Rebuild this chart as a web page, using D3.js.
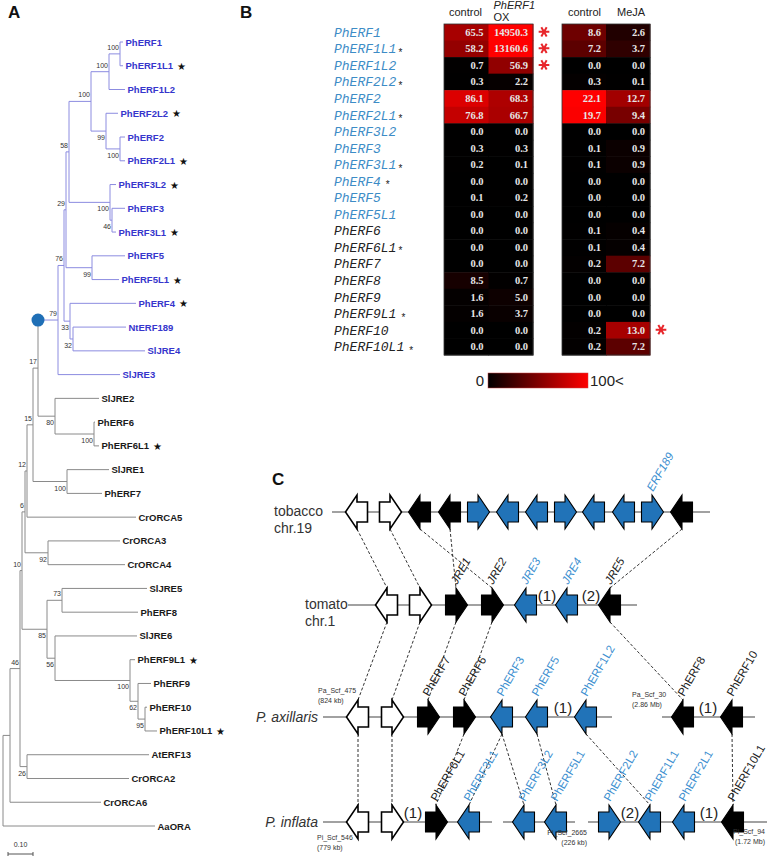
<!DOCTYPE html>
<html>
<head>
<meta charset="utf-8">
<script src="https://cdn.jsdelivr.net/npm/d3@7"></script>
<style>
  body { margin: 0; background: #fff; }
  svg { display: block; font-family: Arial, "Liberation Sans", sans-serif; }
</style>
</head>
<body>
<script>
// ---------- panel A: tree  [node, parent, branch length, bootstrap]
const treeNodes = [
  ["root", null, 0, null],
  ["n1", "root", 0.028, null],
  ["AaORA", "root", 0.608, null],
  ["n2", "n1", 0.040, 46],
  ["CrORCA6", "n1", 0.364, null],
  ["n3", "n2", 0.008, 10],
  ["n4", "n2", 0.028, 26],
  ["n5", "n3", 0.012, 6],
  ["n6", "n3", 0.100, 85],
  ["n7", "n5", 0.008, 12],
  ["n8", "n5", 0.092, 92],
  ["n9", "n7", 0.024, 15],
  ["CrORCA5", "n7", 0.436, null],
  ["n10", "n9", 0.020, 17],
  ["n11", "n9", 0.136, 100],
  ["n12", "n10", 0.080, 79],
  ["n13", "n10", 0.068, 80],
  ["n14", "n12", 0.024, 76],
  ["SlJRE3", "n12", 0.248, null],
  ["n15", "n14", 0.008, 29],
  ["n16", "n14", 0.024, 33],
  ["n17", "n15", 0.012, 58],
  ["n18", "n15", 0.104, 99],
  ["n19", "n17", 0.088, 100],
  ["n20", "n17", 0.164, 100],
  ["n21", "n19", 0.072, 100],
  ["n22", "n19", 0.060, 99],
  ["n23", "n21", 0.044, 100],
  ["PhERF1L2", "n21", 0.064, null],
  ["PhERF1", "n23", 0.012, null],
  ["PhERF1L1", "n23", 0.012, null],
  ["PhERF2L2", "n22", 0.048, null],
  ["n24", "n22", 0.056, 100],
  ["PhERF2", "n24", 0.020, null],
  ["PhERF2L1", "n24", 0.020, null],
  ["PhERF3L2", "n20", 0.024, null],
  ["n25", "n20", 0.008, 46],
  ["PhERF3", "n25", 0.052, null],
  ["PhERF3L1", "n25", 0.016, null],
  ["PhERF5", "n18", 0.132, null],
  ["PhERF5L1", "n18", 0.108, null],
  ["PhERF4", "n16", 0.264, null],
  ["n26", "n16", 0.012, 32],
  ["NtERF189", "n26", 0.212, null],
  ["SlJRE4", "n26", 0.288, null],
  ["SlJRE2", "n13", 0.176, null],
  ["n27", "n13", 0.156, 100],
  ["PhERF6", "n27", 0.004, null],
  ["PhERF6L1", "n27", 0.020, null],
  ["SlJRE1", "n11", 0.168, null],
  ["PhERF7", "n11", 0.140, null],
  ["CrORCA3", "n8", 0.288, null],
  ["CrORCA4", "n8", 0.308, null],
  ["n28", "n6", 0.060, 73],
  ["n29", "n6", 0.032, 56],
  ["SlJRE5", "n28", 0.340, null],
  ["PhERF8", "n28", 0.304, null],
  ["SlJRE6", "n29", 0.328, null],
  ["n30", "n29", 0.300, 100],
  ["PhERF9L1", "n30", 0.020, null],
  ["n31", "n30", 0.032, 62],
  ["PhERF9", "n31", 0.052, null],
  ["n32", "n31", 0.028, 95],
  ["PhERF10", "n32", 0.008, null],
  ["PhERF10L1", "n32", 0.048, null],
  ["AtERF13", "n4", 0.488, null],
  ["CrORCA2", "n4", 0.408, null]
];
const blueClade = "n12";
const treeStars = ["PhERF1L1", "PhERF2L2", "PhERF2L1", "PhERF3L2", "PhERF3L1", "PhERF5L1",
  "PhERF4", "PhERF6L1", "PhERF9L1", "PhERF10L1"];

// ---------- panel B: expression heatmap
const heatGenes = ["PhERF1", "PhERF1L1", "PhERF1L2", "PhERF2L2", "PhERF2", "PhERF2L1", "PhERF3L2",
  "PhERF3", "PhERF3L1", "PhERF4", "PhERF5", "PhERF5L1", "PhERF6", "PhERF6L1", "PhERF7", "PhERF8",
  "PhERF9", "PhERF9L1", "PhERF10", "PhERF10L1"];
const heatBlueGenes = 12;
const heatStars = ["PhERF1L1", "PhERF2L2", "PhERF2L1", "PhERF3L1", "PhERF6L1"];
const heatStarsSpaced = ["PhERF4", "PhERF9L1", "PhERF10L1"];
const oxControl = [65.5, 58.2, 0.7, 0.3, 86.1, 76.8, 0.0, 0.3, 0.2, 0.0, 0.1, 0.0, 0.0, 0.0, 0.0, 8.5, 1.6, 1.6, 0.0, 0.0];
const oxOX = [14950.3, 13160.6, 56.9, 2.2, 68.3, 66.7, 0.0, 0.3, 0.1, 0.0, 0.2, 0.0, 0.0, 0.0, 0.0, 0.7, 5.0, 3.7, 0.0, 0.0];
const mejaControl = [8.6, 7.2, 0.0, 0.3, 22.1, 19.7, 0.0, 0.1, 0.1, 0.0, 0.0, 0.0, 0.1, 0.1, 0.2, 0.0, 0.0, 0.0, 0.2, 0.2];
const mejaMeJA = [2.6, 3.7, 0.0, 0.1, 12.7, 9.4, 0.0, 0.9, 0.9, 0.0, 0.0, 0.0, 0.4, 0.4, 7.2, 0.0, 0.0, 0.0, 13.0, 7.2];
const oxSignif = ["PhERF1", "PhERF1L1", "PhERF1L2"];
const mejaSignif = ["PhERF10"];

// ---------- panel C: synteny  [id, track, position, strand, kind, label]
const tracks = ["tobacco", "tomato", "axillaris", "inflata"];
const trackNames = [["tobacco", "chr.19"], ["tomato", "chr.1"], ["P. axillaris"], ["P. inflata"]];
const segments = [
  ["tobacco", 21, 210], ["tomato", 29, 173.5],
  ["axillaris", 16.5, 161], ["axillaris", 186, 232.5],
  ["inflata", 16.5, 101], ["inflata", 106.5, 142.5], ["inflata", 149, 238.5]
];
const scaffolds = [
  ["axillaris", "Pa_Scf_475", "(824 kb)"], ["axillaris", "Pa_Scf_30", "(2.86 Mb)"],
  ["inflata", "Pi_Scf_546", "(779 kb)"], ["inflata", "Pi_Scf_2665", "(226 kb)"], ["inflata", "Pi_Scf_94", "(1.72 Mb)"]
];
const genes = [
  ["ta", "tobacco", 33.5, -1, "w", ""], ["tb", "tobacco", 50, 1, "w", ""],
  ["tc", "tobacco", 65, -1, "k", ""], ["td", "tobacco", 80, -1, "k", ""],
  ["te", "tobacco", 94, 1, "b", ""], ["tf", "tobacco", 109, -1, "b", ""],
  ["tg", "tobacco", 123.5, -1, "b", ""], ["th", "tobacco", 137.5, 1, "b", ""],
  ["ti", "tobacco", 152, -1, "b", ""], ["tj", "tobacco", 167, -1, "b", ""],
  ["tk", "tobacco", 181, 1, "b", "ERF189"], ["tl", "tobacco", 196, -1, "k", ""],
  ["ma", "tomato", 48.5, -1, "w", ""], ["mb", "tomato", 65, 1, "w", ""],
  ["mc", "tomato", 83, 1, "k", "JRE1"], ["md", "tomato", 101, 1, "k", "JRE2"],
  ["me", "tomato", 118, -1, "b", "JRE3"], ["mf", "tomato", 138.5, -1, "b", "JRE4"],
  ["mg", "tomato", 160, -1, "k", "JRE5"],
  ["aa", "axillaris", 34, -1, "w", ""], ["ab", "axillaris", 51, 1, "w", ""],
  ["ac", "axillaris", 69, 1, "k", "PhERF7"], ["ad", "axillaris", 87, 1, "k", "PhERF6"],
  ["ae", "axillaris", 106, -1, "b", "PhERF3"], ["af", "axillaris", 123.5, -1, "b", "PhERF5"],
  ["ag", "axillaris", 148, -1, "b", "PhERF1L2"], ["ah", "axillaris", 196.5, -1, "k", "PhERF8"],
  ["ai", "axillaris", 221, -1, "k", "PhERF10"],
  ["ia", "inflata", 34, -1, "w", ""], ["ib", "inflata", 51, 1, "w", ""],
  ["ic", "inflata", 73, 1, "k", "PhERF6L1"], ["id", "inflata", 89.5, -1, "b", "PhERF3L1"],
  ["ie", "inflata", 117, -1, "b", "PhERF3L2"], ["if", "inflata", 133, -1, "b", "PhERF5L1"],
  ["ig", "inflata", 159.5, 1, "b", "PhERF2L2"], ["ih", "inflata", 180, -1, "b", "PhERF1L1"],
  ["ii", "inflata", 197, -1, "b", "PhERF2L1"], ["ij", "inflata", 221.5, -1, "k", "PhERF10L1"]
];
const skipped = [
  ["tomato", 128.5, "(1)"], ["tomato", 150.5, "(2)"], ["axillaris", 136.5, "(1)"], ["axillaris", 209, "(1)"],
  ["inflata", 61.5, "(1)"], ["inflata", 170, "(2)"], ["inflata", 209.5, "(1)"]
];
const links = [
  ["ta", "ma"], ["tb", "mb"], ["tc", "md"], ["td", "mc"], ["tl", "mg"],
  ["ma", "aa"], ["mb", "ab"], ["mc", "ac"], ["md", "ad"], ["mg", "ah"],
  ["aa", "ia"], ["ab", "ib"], ["ad", "ic"], ["ae", "id"], ["ae", "ie"], ["af", "if"], ["ag", "ih"], ["ai", "ij"]
];

const W = 768, H = 859;
const svg = d3.select("body").append("svg").attr("width", W).attr("height", H);

const panelLabel = (t, x, y) => svg.append("text").attr("x", x).attr("y", y)
  .attr("font-size", 17).attr("font-weight", "bold").attr("fill", "#111").text(t);
panelLabel("A", 8, 18);
panelLabel("B", 240, 18);
panelLabel("C", 272, 485);

// ================= A =================
const root = d3.stratify().id(d => d[0]).parentId(d => d[1])(treeNodes);
root.eachBefore(n => { n.len = n.parent ? n.parent.len + n.data[2] : 0; });
const leaves = root.leaves();
const tx = d3.scaleLinear().domain([0, 1]).range([3, 253]);
const ty = d3.scaleLinear().domain([0, leaves.length - 1]).range([42, 826]);
leaves.forEach((l, i) => { l.py = ty(i); });
root.eachAfter(n => {
  n.px = tx(n.len);
  if (n.children) n.py = (n.children[0].py + n.children[n.children.length - 1].py) / 2;
});
const blueIds = new Set(root.find(n => n.id === blueClade).descendants().map(n => n.id));
const lineCol = n => blueIds.has(n.id) ? "#8c8ce0" : "#8a8a8a";

const gA = svg.append("g");
root.descendants().forEach(n => {
  if (n.parent) {
    gA.append("line").attr("x1", n.parent.px).attr("x2", n.px).attr("y1", n.py).attr("y2", n.py)
      .attr("stroke", lineCol(n)).attr("stroke-width", 1);
  }
  if (n.children) {
    const c = n.children;
    gA.append("line").attr("x1", n.px).attr("x2", n.px)
      .attr("y1", c[0].py).attr("y2", c[c.length - 1].py)
      .attr("stroke", lineCol(n)).attr("stroke-width", 1);
  }
});
// bootstrap values
root.descendants().filter(n => n.data[3] != null).forEach(n => {
  const top = n.parent.children[0] === n;
  gA.append("text").attr("x", n.px - 1).attr("y", top ? n.py - 4 : n.py + 9)
    .attr("text-anchor", "end").attr("font-size", 7).attr("fill", "#333").text(n.data[3]);
});
// leaf labels
leaves.forEach(l => {
  const t = gA.append("text").attr("x", l.px + 2.5).attr("y", l.py + 3.5)
    .attr("font-size", 9.5).attr("font-weight", "bold")
    .attr("fill", blueIds.has(l.id) ? "#3636cc" : "#1a1a1a").text(l.id);
  if (treeStars.includes(l.id)) {
    const w = t.node().getComputedTextLength();
    gA.append("text").attr("x", l.px + 2.5 + w + 4).attr("y", l.py + 4)
      .attr("font-size", 10).attr("fill", "#111").text("\u2605");
  }
});
// blue marker at clade base
const bc = root.find(n => n.id === blueClade);
gA.append("circle").attr("cx", bc.parent.px).attr("cy", bc.py).attr("r", 6.5).attr("fill", "#1f6fb6");
// scale bar
gA.append("line").attr("x1", tx(0.02)).attr("x2", tx(0.12)).attr("y1", 854).attr("y2", 854).attr("stroke", "#555");
[0.02, 0.12].forEach(v => gA.append("line").attr("x1", tx(v)).attr("x2", tx(v)).attr("y1", 852).attr("y2", 856).attr("stroke", "#555"));
gA.append("text").attr("x", tx(0.07)).attr("y", 847).attr("text-anchor", "middle").attr("font-size", 7).attr("fill", "#333").text("0.10");

// ================= B =================
const gB = svg.append("g");
const ry = d3.scaleBand().domain(heatGenes).range([24, 355]);
const blocks = [
  { x0: 444, x1: 533, cols: [oxControl, oxOX], max: 100, signif: oxSignif },
  { x0: 562, x1: 650, cols: [mejaControl, mejaMeJA], max: 20, signif: mejaSignif }
];
const fmt = d3.format(".1f");
const star = d3.symbol(d3.symbolAsterisk, 80);
blocks.forEach(b => {
  const cx = d3.scaleBand().domain([0, 1]).range([b.x0, b.x1]);
  const col = d3.scaleLinear().domain([0, b.max]).range(["#000000", "#ff0000"]).clamp(true);
  b.cols.forEach((vals, ci) => {
    vals.forEach((v, ri) => {
      const g = heatGenes[ri];
      gB.append("rect").attr("x", cx(ci)).attr("y", ry(g)).attr("width", cx.bandwidth() + 0.5)
        .attr("height", ry.bandwidth() + 0.5).attr("fill", col(v));
      gB.append("text").attr("x", cx(ci) + cx.bandwidth() - 5).attr("y", ry(g) + ry.bandwidth() / 2 + 3.5)
        .attr("text-anchor", "end").attr("font-family", "'Liberation Serif', 'Times New Roman', serif")
        .attr("font-weight", "bold").attr("font-size", 10.5).attr("fill", "#e6e6e6").text(fmt(v));
    });
  });
  gB.append("rect").attr("x", b.x0).attr("y", 24).attr("width", b.x1 - b.x0).attr("height", 331)
    .attr("fill", "none").attr("stroke", "#333").attr("stroke-width", 0.8);
  b.signif.forEach(g => {
    gB.append("path").attr("d", star())
      .attr("transform", `translate(${b.x1 + 11},${ry(g) + ry.bandwidth() / 2 - 0.5}) rotate(90)`)
      .attr("fill", "none").attr("stroke", "#e8262b").attr("stroke-width", 2);
  });
  b.cx = cx;
});
// column headers
const hdr = (t, x, y, it) => gB.append("text").attr("x", x).attr("y", y).attr("font-size", 11)
  .attr("fill", "#222").attr("font-style", it ? "italic" : null).text(t);
hdr("control", blocks[0].cx(0) + 5, 16);
hdr("PhERF1", blocks[0].cx(1) + 5, 9, true);
hdr("OX", blocks[0].cx(1) + 5, 21);
hdr("control", blocks[1].cx(0) + 6, 16);
hdr("MeJA", blocks[1].cx(1) + 11, 16);
// gene names
heatGenes.forEach((g, i) => {
  const t = gB.append("text").attr("x", 334).attr("y", ry(g) + ry.bandwidth() / 2 + 4.5)
    .attr("font-family", "'Courier New', 'Liberation Mono', monospace").attr("font-style", "italic")
    .attr("font-size", 13).attr("fill", i < heatBlueGenes ? "#3d8cc6" : "#222").text(g);
  if (heatStars.includes(g) || heatStarsSpaced.includes(g)) {
    const w = t.node().getComputedTextLength();
    gB.append("text").attr("x", 334 + w + (heatStarsSpaced.includes(g) ? 5 : 2))
      .attr("y", ry(g) + ry.bandwidth() / 2 + 7).attr("font-size", 10).attr("fill", "#222").text("*");
  }
});
// colour bar
const defs = svg.append("defs");
const grad = defs.append("linearGradient").attr("id", "hg");
grad.append("stop").attr("offset", "0%").attr("stop-color", "#000");
grad.append("stop").attr("offset", "100%").attr("stop-color", "#ff0000");
const lx = d3.scaleLinear().domain([0, 100]).range([488, 588]);
gB.append("rect").attr("x", lx(0)).attr("y", 373).attr("width", lx(100) - lx(0)).attr("height", 15)
  .attr("fill", "url(#hg)").attr("stroke", "#c44").attr("stroke-width", 0.5);
gB.append("text").attr("x", lx(0) - 4).attr("y", 386).attr("text-anchor", "end").attr("font-size", 15).attr("fill", "#222").text("0");
gB.append("text").attr("x", lx(100) + 2).attr("y", 386).attr("font-size", 15).attr("fill", "#222").text("100<");

// ================= C =================
const gC = svg.append("g");
const cxs = d3.scaleLinear().domain([0, 240]).range([290, 770]);
const cys = d3.scaleOrdinal().domain(tracks).range([512, 605, 717, 822]);
const geneById = new Map(genes.map(g => [g[0], g]));
const HL = 11.5, BL = 10.5, HH = 17, BH = 10;
const fills = { w: "#ffffff", k: "#000000", b: "#2173b8" };

segments.forEach(s => {
  gC.append("line").attr("x1", cxs(s[1])).attr("x2", cxs(s[2])).attr("y1", cys(s[0])).attr("y2", cys(s[0]))
    .attr("stroke", "#444").attr("stroke-width", 1.2);
});
links.forEach(([a, b]) => {
  const ga = geneById.get(a), gb = geneById.get(b);
  gC.append("line").attr("x1", cxs(ga[2])).attr("y1", cys(ga[1]) + HH)
    .attr("x2", cxs(gb[2])).attr("y2", cys(gb[1]) - HH)
    .attr("stroke", "#333").attr("stroke-width", 1).attr("stroke-dasharray", "3,2");
});
genes.forEach(g => {
  const x = cxs(g[2]), y = cys(g[1]), s = g[3];
  const pts = [[-BL, -BH], [0, -BH], [0, -HH], [HL, 0], [0, HH], [0, BH], [-BL, BH]]
    .map(p => [x + s * p[0], y + p[1]]);
  gC.append("path").attr("d", d3.line()(pts) + "Z").attr("fill", fills[g[4]])
    .attr("stroke", "#000").attr("stroke-width", g[4] === "w" ? 1.6 : 1.1).attr("stroke-linejoin", "miter");
  if (g[5]) {
    const italic = !g[5].startsWith("Ph");
    gC.append("text").attr("transform", `translate(${x + 1},${y - HH - 3}) rotate(-60)`)
      .attr("font-size", italic ? 11.5 : 11.5).attr("font-style", italic ? "italic" : null)
      .attr("fill", g[4] === "b" ? "#3d8fd0" : "#222").text(g[5]);
  }
});
skipped.forEach(s => {
  gC.append("text").attr("x", cxs(s[1])).attr("y", cys(s[0]) - 4).attr("text-anchor", "middle")
    .attr("font-size", 15).attr("fill", "#222").text(s[2]);
});
// track names
trackNames.forEach((nm, i) => {
  const y = cys(tracks[i]);
  if (nm.length === 2) {
    const x = i === 0 ? 274 : 305;
    gC.append("text").attr("x", x).attr("y", y + 4).attr("font-size", 14).attr("fill", "#333").text(nm[0]);
    gC.append("text").attr("x", x).attr("y", y + 21).attr("font-size", 14).attr("fill", "#333").text(nm[1]);
  } else {
    gC.append("text").attr("x", cxs(16.5) - 5).attr("y", y + 5).attr("text-anchor", "end")
      .attr("font-size", 14).attr("font-style", "italic").attr("fill", "#333").text(nm[0]);
  }
});
// scaffold names
const scafPos = {
  "Pa_Scf_475": [cxs(16.5) - 5, -24, "start"], "Pa_Scf_30": [cxs(186) - 30, -20, "start"],
  "Pi_Scf_546": [cxs(16.5) - 6, 18, "start"], "Pi_Scf_2665": [cxs(142.5) + 12, 13, "end"],
  "Pi_Scf_94": [cxs(238.5) - 2, 12, "end"]
};
scaffolds.forEach(s => {
  const p = scafPos[s[1]], y = cys(s[0]) + p[1];
  [s[1], s[2]].forEach((t, k) => gC.append("text").attr("x", p[0]).attr("y", y + k * 10)
    .attr("text-anchor", p[2]).attr("font-size", 7).attr("fill", "#333").text(t));
});
</script>
</body>
</html>
